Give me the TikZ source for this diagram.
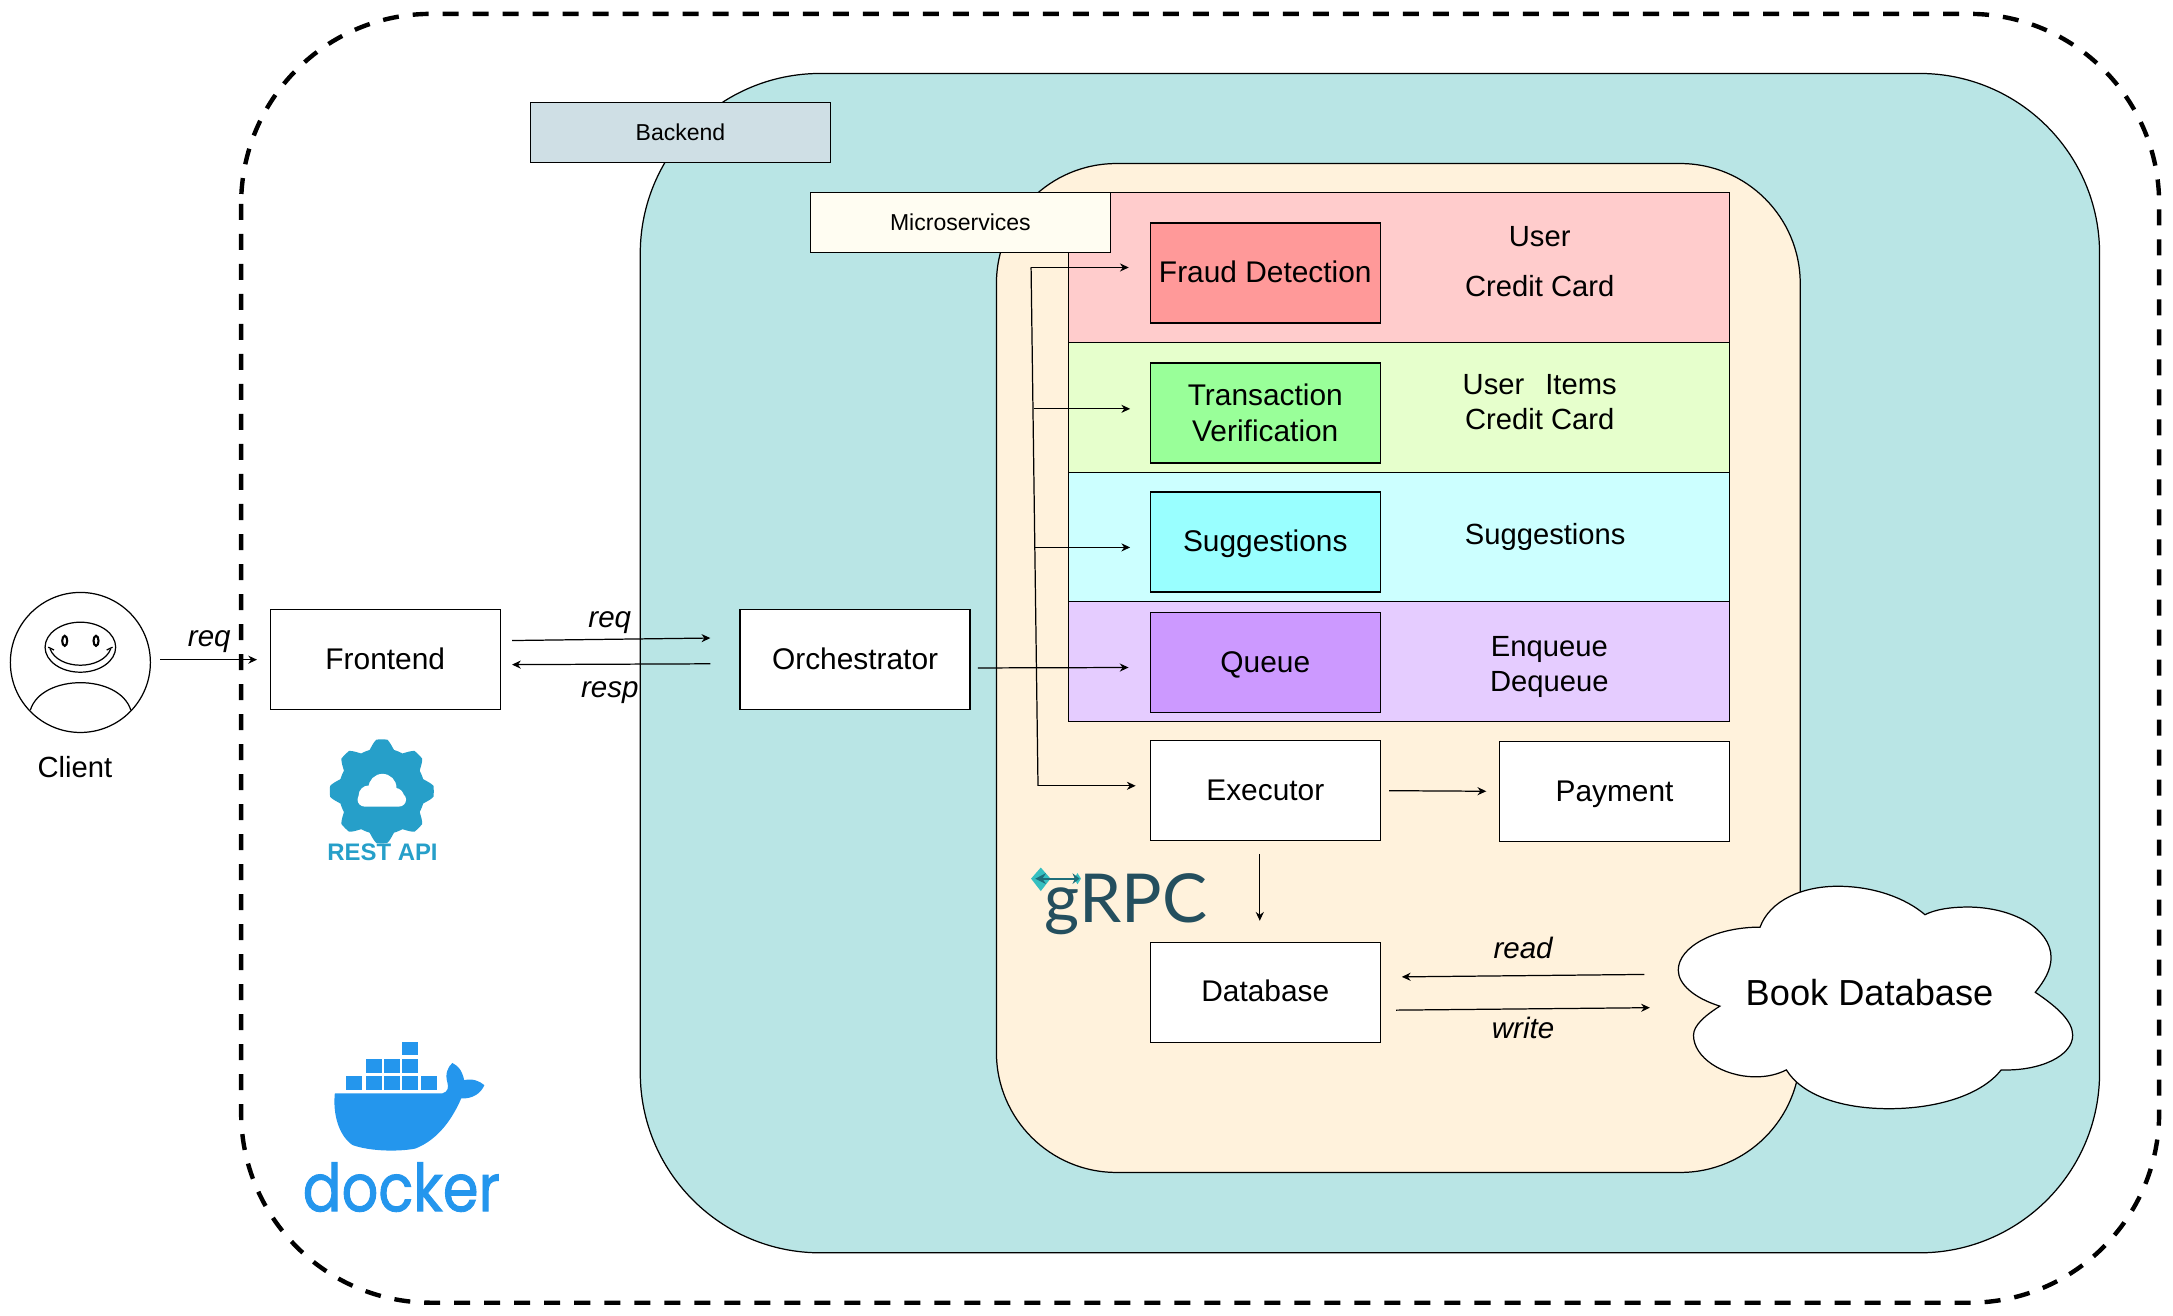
\documentclass[tikz,border=0pt]{standalone}
\usepackage{fontspec}
\setmainfont{Liberation Sans}
\newfontfamily\dockerfont[FakeBold=1.4,FakeStretch=0.87]{Poppins}
\newfontfamily\grpcfont{Lato}
\usetikzlibrary{arrows.meta}
\definecolor{backendfill}{HTML}{B9E5E5}
\definecolor{servicefill}{HTML}{FFF2DC}
\definecolor{backendtagfill}{HTML}{CFDFE5}
\definecolor{microtagfill}{HTML}{FFFDF2}
\definecolor{fraudrowfill}{HTML}{FFCCCC}
\definecolor{transrowfill}{HTML}{E6FFCC}
\definecolor{suggrowfill}{HTML}{CCFFFF}
\definecolor{queuerowfill}{HTML}{E5CCFF}
\definecolor{fraudfill}{HTML}{FF9999}
\definecolor{transfill}{HTML}{99FF99}
\definecolor{suggfill}{HTML}{99FFFF}
\definecolor{queuefill}{HTML}{CC99FF}
\definecolor{restblue}{HTML}{269FC9}
\definecolor{dockerblue}{HTML}{2496ED}
\definecolor{grpcdark}{HTML}{244F5E}
\definecolor{grpclight}{HTML}{35BFC0}
\definecolor{grpcarrow}{HTML}{1F6E7A}
\tikzset{
	box/.style={draw,fill=white,line width=0.4pt,minimum width=2.3cm,minimum height=1cm,inner sep=0pt,align=center,font=\fontsize{8.5}{10.2}\selectfont},
	oneline/.style={text height=0.73em,text depth=0.18em},
	tagbox/.style={draw,line width=0.4pt,minimum width=3cm,minimum height=0.6cm,inner sep=0pt,font=\fontsize{6.55}{8}\selectfont},
	rowbox/.style={draw,line width=0.4pt,minimum width=6.61cm,inner sep=0pt},
	txt/.style={inner sep=0pt,align=center,font=\fontsize{8.3}{9.9}\selectfont},
	edgetxt/.style={inner sep=0pt,font=\fontsize{8.4}{10.2}\selectfont\itshape},
	flow/.style={line width=0.35pt,-{Stealth[length=2.5pt,width=2.3pt]}},
}
\begin{document}
\begin{tikzpicture}[x=0.013858cm,y=-0.013858cm]
	\useasboundingbox (0,0) rectangle (1568,948.9);
	\draw[line width=1.25pt,dash pattern=on 0.16cm off 0.14cm,rounded corners=1.9cm] (174,10) rectangle (1558,940);
	\draw[fill=backendfill,line width=0.35pt,rounded corners=1.8cm] (462,53) rectangle (1515,904);
	\draw[fill=servicefill,line width=0.35pt,rounded corners=1.2cm] (719,118) rectangle (1299,846);
	\node[tagbox,fill=backendtagfill] (backendtag) at (491,95.5) {Backend};
	\node[rowbox,fill=fraudrowfill,minimum height=1.5cm] (fraudrow) at (1009.5,193) {};
	\node[rowbox,fill=transrowfill,minimum height=1.3cm] (transrow) at (1009.5,294) {};
	\node[rowbox,fill=suggrowfill,minimum height=1.29cm] (suggrow) at (1009.5,387.5) {};
	\node[rowbox,fill=queuerowfill,minimum height=1.2cm] (queuerow) at (1009.5,477.5) {};
	\node[tagbox,fill=microtagfill] (microtag) at (693,160.5) {Microservices};
	\node[box,oneline,fill=fraudfill] (fraud) at (913,197) {Fraud Detection};
	\node[box,fill=transfill] (trans) at (913,298) {Transaction\\Verification};
	\node[box,oneline,fill=suggfill] (sugg) at (913,391) {Suggestions};
	\node[box,oneline,fill=queuefill] (queue) at (913,478) {Queue};
	\node[txt,oneline] (fraudusr) at (1111,171) {User};
	\node[txt,oneline] (fraudcard) at (1111,207) {Credit Card};
	\node[txt] (transdata) at (1111,290) {User\hspace{0.72em}Items\\Credit Card};
	\node[txt,oneline] (suggdata) at (1115,386) {Suggestions};
	\node[txt] (queuedata) at (1118,481.5) {Enqueue\\Dequeue};
	\node[box,oneline] (executor) at (913,570.5) {Executor};
	\node[box,oneline] (payment) at (1165,571) {Payment};
	\node[box,oneline] (database) at (913,716) {Database};
	\node[box,oneline] (frontend) at (278,476) {Frontend};
	\node[box,oneline] (orch) at (617,476) {Orchestrator};
	\node[draw,fill=white,circle,line width=0.35pt,minimum size=1.4cm,inner sep=0pt] (client) at (58,478) {};
	\node[txt,oneline] (clientlbl) at (54,554) {Client};
	\draw[line width=0.35pt] (58,467) ellipse [x radius=0.353cm,y radius=0.25cm];
	\draw[line width=0.6pt] (46.7,462.4) ellipse [x radius=0.025cm,y radius=0.05cm];
	\draw[line width=0.6pt] (69.3,462.4) ellipse [x radius=0.025cm,y radius=0.05cm];
	\draw[line width=0.35pt] (36,468) .. controls (42,484) and (74,484) .. (80,468);
	\draw[line width=0.35pt] (34.8,467) -- (39,469) (81.2,467) -- (77,469);
	\draw[line width=0.35pt] (21.9,512.4) .. controls (30,486) and (86,486) .. (94.4,512.4);
	\draw[fill=white,line width=0.35pt] (1270,669) .. controls (1277,650) and (1300,639.5) .. (1326,639.5) .. controls (1352,639.5) and (1375,648) .. (1389,660) .. controls (1397,656) and (1408,654.5) .. (1420,654.5) .. controls (1452,654.5) and (1480,670) .. (1480,691) .. controls (1480,700) and (1475,708) .. (1468.6,716) .. controls (1485,727) and (1495.6,737) .. (1495.6,747) .. controls (1495.6,762) and (1472,773) .. (1444,772) .. controls (1430,790) and (1398,800) .. (1363,800) .. controls (1328,800) and (1300,790) .. (1289,772) .. controls (1283,775) and (1276,777) .. (1267,777) .. controls (1243,777) and (1222,763) .. (1222,747) .. controls (1222,740) and (1230,733) .. (1241,726) .. controls (1222,720) and (1211,710) .. (1211,700) .. controls (1211,683) and (1238,669) .. (1270,669) -- cycle;
	\node[inner sep=0pt,minimum width=4.157cm,font=\fontsize{10.3}{12}\selectfont] (bookdb) at (1349,716) {Book Database};
	\draw[flow,shorten <=0.09cm,shorten >=0.125cm] (client.east |- frontend.west) -- (frontend.west);
	\node[edgetxt] (reqa) at (151,463) {req};
	\draw[flow,shorten <=0.11cm,shorten >=0.29cm] ([yshift=0.19cm]frontend.east) -- ([yshift=0.22cm]orch.west);
	\draw[flow,shorten <=0.29cm,shorten >=0.11cm] ([yshift=-0.04cm]orch.west) -- ([yshift=-0.05cm]frontend.east);
	\node[edgetxt] (reqb) at (440,449) {req};
	\node[edgetxt] (respa) at (440,500) {resp};
	\draw[flow,shorten <=0.07cm,shorten >=0.21cm] ([yshift=-0.083cm]orch.east) -- ([yshift=-0.05cm]queue.west);
	\coordinate (trunktop) at (744,193);
	\coordinate (trunkb) at (746,295);
	\coordinate (trunkc) at (747,395);
	\coordinate (trunkbot) at (749,567);
	\draw[line width=0.35pt] (trunktop) -- (trunkbot);
	\draw[flow,shorten >=0.208cm] (trunktop) -- (trunktop -| fraud.west);
	\draw[flow,shorten >=0.194cm] (trunkb) -- (trunkb -| trans.west);
	\draw[flow,shorten >=0.194cm] (trunkc) -- (trunkc -| sugg.west);
	\draw[flow,shorten >=0.139cm] (trunkbot) -- (trunkbot -| executor.west);
	\draw[flow,shorten <=0.08cm,shorten >=0.125cm] (executor.east) -- (payment.west);
	\draw[flow,shorten <=0.125cm,shorten >=0.208cm] ([xshift=-0.055cm]executor.south) -- ([xshift=-0.055cm]database.north);
	\draw[flow,shorten <=0.166cm,shorten >=0.208cm] ([yshift=0.18cm]bookdb.west) -- ([yshift=0.152cm]database.east);
	\draw[flow,shorten <=0.152cm,shorten >=0.11cm] ([yshift=-0.18cm]database.east) -- ([yshift=-0.153cm]bookdb.west);
	\node[edgetxt] (readlbl) at (1099,684) {read};
	\node[edgetxt] (writelbl) at (1099,742) {write};
	\fill[restblue] plot[domain=0:360,samples=241,smooth] ({275.5+(34.3+3.2*max(-1,min(1,1.5*cos(8*\x))))*cos(\x)},{571+(34.3+3.2*max(-1,min(1,1.5*cos(8*\x))))*sin(\x)}) -- cycle;
	\fill[white,rounded corners=0.07cm] (258,572) rectangle (293,582);
	\fill[white] (276,568.5) circle (0.14cm) (266,574) circle (0.1cm) (285,575) circle (0.09cm);
	\node[inner sep=0pt,text=restblue,font=\fontsize{6.8}{8}\selectfont\bfseries] (restlbl) at (276,615) {REST API};
	\foreach \px/\py in {290/751.6,264/764,277/764,290/764,250/776.6,264/776.6,277/776.6,290/776.6,303.8/776.6}
		\fill[dockerblue] (\px,\py) rectangle (\px+11.5,\py+10);
	\fill[dockerblue] (241.6,789) -- (319,789) .. controls (323,788) and (324,785) .. (322.8,781) .. controls (321,775) and (323,770) .. (326.4,767) .. controls (330,769) and (333,771) .. (335,779.4) .. controls (341,778) and (346,780) .. (349.5,783) .. controls (347,789) and (341,793) .. (332.8,792.6) .. controls (327,806) and (317,822) .. (299.6,828.8) .. controls (288,831) and (268,831) .. (254.5,826.3) .. controls (245,820) and (240,805) .. (241.6,789) -- cycle;
	\node[inner sep=0pt,anchor=base,text=dockerblue,font=\fontsize{18.8}{20}\dockerfont] (dockerlbl) at (289.6,874) {docker};
	\node[inner sep=0pt,anchor=base,text=grpcdark,font=\fontsize{19.2}{20}\grpcfont] (grpclbl) at (812.5,666) {gRPC};
	\fill[grpclight] (744,634) -- (751,626) -- (758,634) -- (751,643) -- cycle;
	\fill[grpclight] (775,634) -- (777.5,630) -- (780,634) -- (777.5,638) -- cycle;
	\draw[grpcarrow,line width=0.5pt,{Stealth[length=3pt,width=3pt]}-{Stealth[length=2pt,width=3pt]}] (747,634) -- (779,634);
\end{tikzpicture}
\end{document}
